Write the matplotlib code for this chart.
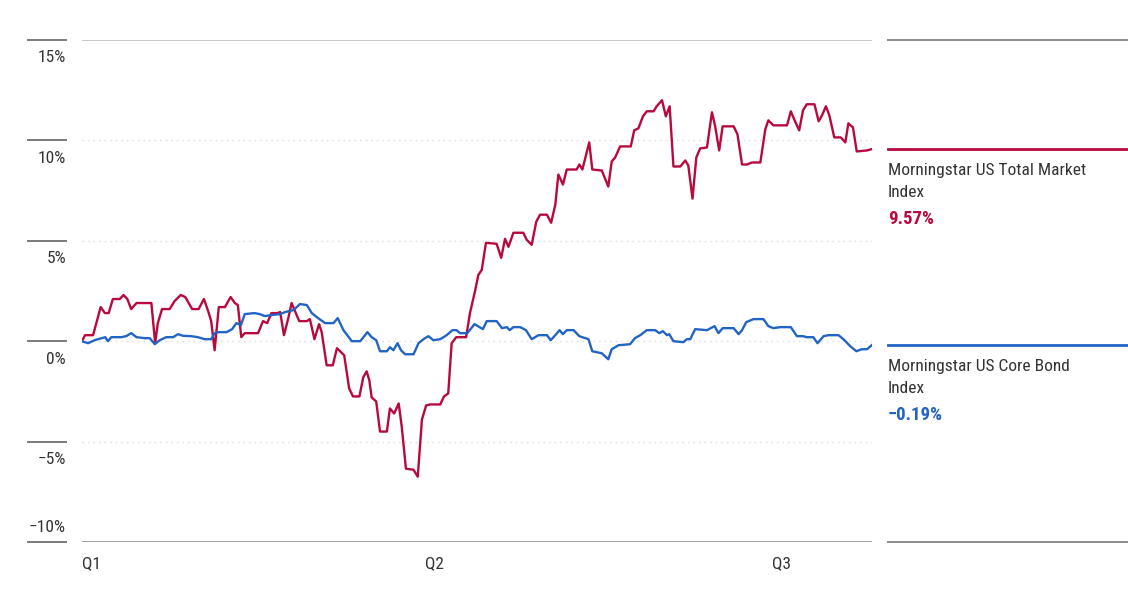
import matplotlib.pyplot as plt
import matplotlib.transforms as mtransforms
from matplotlib.lines import Line2D

# Days since start of year, cumulative return (%)
market_days = [0, 0.8, 2.9, 4.9, 6.0, 7.0, 8.1, 9.9, 10.9, 11.9, 12.9, 14.3, 18.2, 19.2, 19.9,
               21.0, 23.0, 24.3, 25.9, 27.1, 28.9, 30.6, 32.0, 33.1, 33.9, 34.8, 35.9, 37.5,
               39.0, 40.1, 40.9, 41.8, 42.7, 46.2, 47.5, 48.6, 49.7, 51.3, 52.0, 53.0, 54.2,
               55.0, 55.9, 57.0, 59.0, 59.8, 61.0, 62.2, 62.9, 64.2, 65.8, 66.9, 67.7, 68.8,
               70.1, 71.1, 72.8, 73.8, 74.7, 75.4, 76.0, 77.2, 78.2, 80.0, 80.8, 81.9, 83.1,
               83.9, 85.0, 87.0, 88.1, 89.2, 90.3, 91.3, 94.0, 95.0, 96.1, 97.0, 98.2, 100.8,
               101.8, 103.2, 104.0, 104.9, 106.0, 108.8, 110.0, 111.0, 111.9, 113.2, 115.8,
               116.7, 118.0, 119.2, 120.2, 122.0, 123.1, 124.2, 125.0, 126.2, 127.2, 129.8,
               130.5, 131.3, 133.1, 133.9, 136.4, 138.1, 139.0, 139.9, 141.2, 144.0, 144.9,
               146.0, 147.2, 148.2, 150.0, 150.8, 152.2, 153.2, 154.2, 155.2, 157.0, 158.3,
               159.1, 160.2, 161.2, 162.2, 164.0, 165.3, 166.1, 167.2, 168.1, 171.0, 172.0,
               173.2, 174.5, 175.8, 178.0, 179.3, 180.1, 181.4, 185.0, 186.0, 187.1, 188.2,
               189.2, 190.2, 192.2, 193.3, 194.2, 195.2, 196.1, 197.4, 199.1, 200.3, 201.1,
               202.3, 203.3, 206.0, 207.3]
market_vals = [0, 0.3, 0.3, 1.7, 1.4, 1.4, 2.1, 2.1, 2.3, 2.1, 1.6, 1.9, 1.9, -0.1, 0.9,
               1.6, 1.6, 2.0, 2.3, 2.2, 1.6, 1.6, 2.1, 1.5, 1.0, -0.45, 1.7, 1.7,
               2.2, 1.9, 1.8, 0.2, 0.4, 0.4, 1.0, 0.9, 1.4, 1.4, 1.45, 0.3, 1.2,
               1.9, 1.5, 1.0, 1.0, 1.1, 0.1, 0.85, 0.45, -1.2, -1.2, -0.35, -0.5, -0.7,
               -2.35, -2.75, -2.75, -1.8, -1.5, -1.95, -2.8, -3.0, -4.5, -4.5, -3.35, -3.6, -3.1,
               -4.25, -6.35, -6.4, -6.75, -3.9, -3.2, -3.15, -3.15, -2.75, -2.6, -0.1, 0.2, 0.2,
               1.4, 2.55, 3.3, 3.55, 4.9, 4.85, 4.15, 5.1, 4.7, 5.4, 5.4,
               5.05, 4.8, 5.95, 6.3, 6.3, 5.9, 6.8, 8.3, 7.8, 8.55, 8.55,
               8.8, 8.55, 9.9, 8.55, 8.5, 7.7, 8.95, 9.15, 9.7, 9.7, 10.5,
               10.6, 11.2, 11.45, 11.45, 11.7, 12.0, 11.2, 11.7, 8.7, 8.7, 9.0,
               8.75, 7.1, 9.15, 9.6, 9.65, 11.4, 10.75, 9.5, 10.7, 10.7, 10.3,
               8.8, 8.8, 8.9, 8.9, 10.55, 11.0, 10.75, 10.75, 11.45, 10.95, 10.5,
               11.5, 11.8, 11.8, 10.95, 11.25, 11.7, 11.25, 10.15, 10.15, 9.9, 10.85,
               10.65, 9.45, 9.5, 9.57]

bond_days = [0, 1.6, 3.3, 5.1, 6.1, 6.8, 7.7, 10.3, 11.6, 12.9, 14.3, 16.5, 17.8, 19.1, 20.4,
             22.1, 23.9, 25.2, 26.5, 28.7, 30.4, 32.2, 33.9, 34.8, 35.7, 37.9, 39.4, 40.5,
             41.7, 42.7, 45.3, 46.6, 48.0, 49.7, 52.0, 53.3, 55.5, 57.2, 59.0, 60.3, 61.6,
             63.8, 66.0, 67.1, 68.6, 70.8, 73.0, 74.9, 76.0, 77.2, 78.2, 80.0, 80.8, 81.7,
             82.8, 83.7, 84.8, 87.0, 88.3, 89.6, 90.9, 92.2, 94.0, 95.7, 97.2, 98.3, 99.2,
             101.1, 103.0, 104.3, 105.2, 106.2, 108.8, 110.2, 111.5, 112.2, 113.2, 115.0,
             116.5, 118.0, 119.8, 122.0, 123.0, 124.2, 125.3, 126.2, 127.2, 129.0, 130.5,
             132.9, 133.9, 136.4, 138.1, 139.0, 140.8, 143.8, 145.1, 146.5, 148.2, 150.4,
             151.5, 152.4, 153.5, 154.1, 155.2, 157.8, 158.7, 159.6, 160.9, 164.0, 166.0,
             167.0, 168.1, 171.0, 172.3, 173.2, 174.3, 176.2, 178.8, 180.1, 181.4, 183.2,
             186.0, 187.6, 189.2, 190.2, 191.9, 193.0, 194.6, 195.9, 198.5, 199.8, 201.6,
             203.2, 204.6, 206.0, 207.3]
bond_vals = [0, -0.1, 0.05, 0.15, 0.2, 0.0, 0.2, 0.2, 0.25, 0.4, 0.2, 0.15, 0.15, -0.15, 0.05,
             0.2, 0.2, 0.35, 0.27, 0.25, 0.2, 0.1, 0.1, 0.4, 0.45, 0.45, 0.6, 0.9,
             0.8, 1.35, 1.4, 1.35, 1.25, 1.3, 1.35, 1.45, 1.55, 1.85, 1.8, 1.4, 1.2,
             0.9, 0.9, 1.15, 0.55, 0.0, 0.0, 0.45, 0.2, 0.05, -0.5, -0.5, -0.3, -0.45,
             -0.1, -0.45, -0.65, -0.65, -0.1, 0.1, 0.25, 0.05, 0.1, 0.3, 0.55, 0.55, 0.4,
             0.4, 0.85, 0.7, 0.6, 1.0, 1.0, 0.65, 0.7, 0.55, 0.7, 0.7,
             0.55, 0.1, 0.3, 0.3, 0.05, 0.3, 0.55, 0.35, 0.55, 0.55, 0.25,
             0.1, -0.5, -0.6, -0.9, -0.4, -0.2, -0.15, 0.15, 0.3, 0.55, 0.55,
             0.4, 0.5, 0.3, 0.35, 0.0, -0.05, 0.1, 0.1, 0.6, 0.55, 0.75,
             0.4, 0.65, 0.65, 0.35, 0.55, 0.95, 1.1, 1.1, 0.75, 0.65, 0.7,
             0.7, 0.25, 0.25, 0.2, 0.2, -0.1, 0.25, 0.3, 0.3, 0.1, -0.25,
             -0.5, -0.4, -0.4, -0.19]

quarter_days = [0, 90, 181]
quarter_labels = ["Q1", "Q2", "Q3"]
y_ticks = [15, 10, 5, 0, -5, -10]
y_labels = ["15%", "10%", "5%", "0%", "\u22125%", "\u221210%"]

series_names = ["Morningstar US Total Market\nIndex", "Morningstar US Core Bond\nIndex"]
series_final = ["9.57%", "\u22120.19%"]
series_colors = ["#b8093d", "#2264c4"]

plt.rcParams["font.family"] = ["Roboto Condensed", "Archivo Narrow", "DejaVu Sans"]

fig = plt.figure(figsize=(11.28, 6), dpi=100)
ax = fig.add_axes([82 / 1128, 58 / 600, 790 / 1128, 502 / 600])

ax.plot(market_days, market_vals, color=series_colors[0], lw=1.7, zorder=3)
ax.plot(bond_days, bond_vals, color=series_colors[1], lw=1.7, zorder=3)

ax.set_xlim(0, market_days[-1])
ax.set_ylim(-10, 15)

# gridlines
for v in y_ticks[1:-1]:
    ax.axhline(v, color="#d9d9d9", lw=1, ls=(0, (1, 3)), zorder=1)
ax.axhline(15, color="#c8c8c8", lw=1.4, zorder=1)
ax.axhline(-10, color="#a0a0a0", lw=1.4, zorder=1)

for s in ax.spines.values():
    s.set_visible(False)
ax.set_yticks([])
ax.set_xticks(quarter_days)
ax.set_xticklabels(quarter_labels, ha="left", fontsize=12.5, color="#333333")
ax.tick_params(axis="x", length=0, pad=10.5)

# left tick labels with short rules
trans = mtransforms.blended_transform_factory(fig.transFigure, ax.transData)
for v, lab in zip(y_ticks, y_labels):
    fig.add_artist(Line2D([28 / 1128, 66 / 1128], [v, v], transform=trans,
                          color="#7a7a7a", lw=1.4))
    if v == y_ticks[-1]:
        ax.annotate(lab, xy=(66 / 1128, v), xycoords=trans, xytext=(0, 5),
                    textcoords="offset points", ha="right", va="bottom",
                    fontsize=12.5, color="#333333")
    else:
        ax.annotate(lab, xy=(66 / 1128, v), xycoords=trans, xytext=(0, -7.5),
                    textcoords="offset points", ha="right", va="top",
                    fontsize=12.5, color="#333333")

# right panel
x0, x1 = 888 / 1128, 1.0
for v in (15, -10):
    fig.add_artist(Line2D([x0, x1], [v, v], transform=trans, color="#8a8a8a", lw=1.4))

last_vals = [market_vals[-1], bond_vals[-1]]
for name, final, col, v in zip(series_names, series_final, series_colors, last_vals):
    fig.add_artist(Line2D([x0, x1], [v, v], transform=trans, color=col, lw=2))
    ax.annotate(name, xy=(x0, v), xycoords=trans, xytext=(0, -10),
                textcoords="offset points", ha="left", va="top",
                fontsize=12.5, color="#333333", linespacing=1.62)
    ax.annotate(final, xy=(x0, v), xycoords=trans, xytext=(0, -44),
                textcoords="offset points", ha="left", va="top",
                fontsize=13.5, fontweight="bold", color=col)

fig.savefig("out.png", dpi=100)
